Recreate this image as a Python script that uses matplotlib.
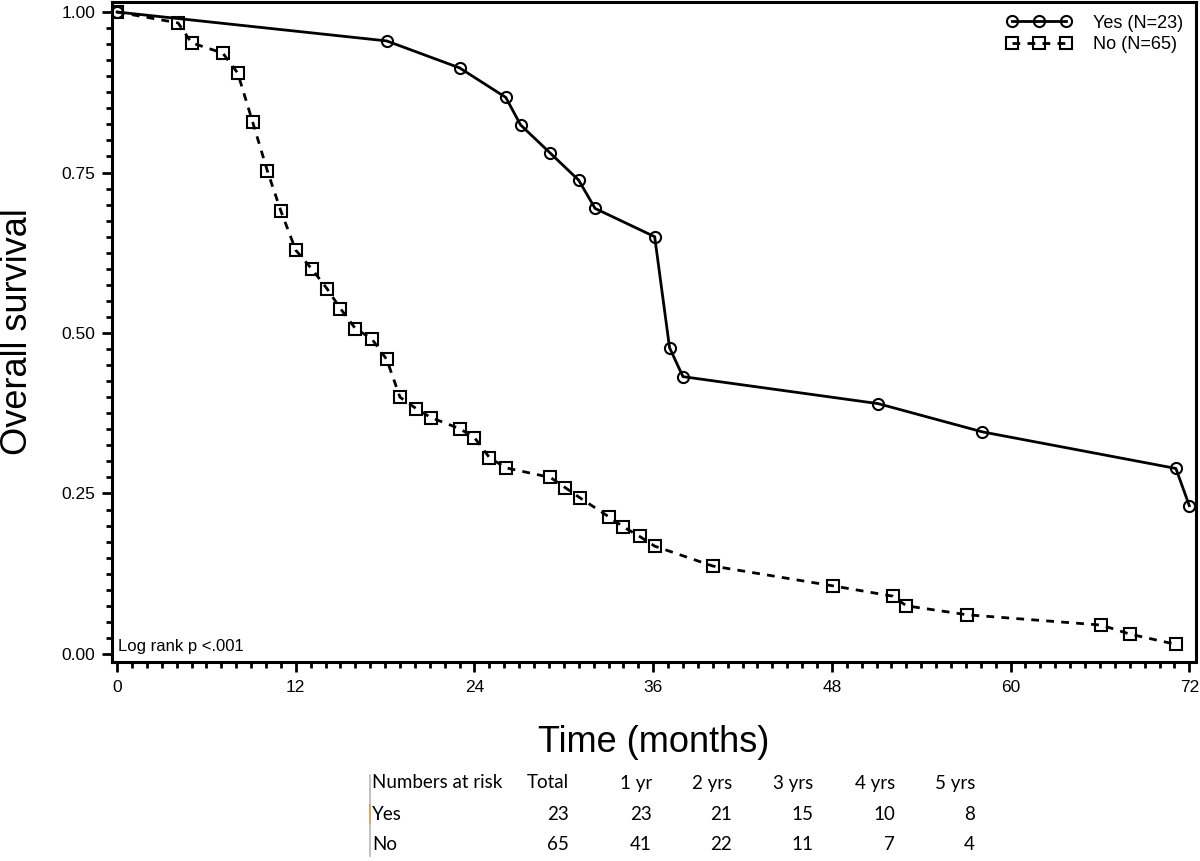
import matplotlib
matplotlib.use("Agg")
import matplotlib.pyplot as plt
from matplotlib.lines import Line2D
from matplotlib.ticker import MultipleLocator, FormatStrFormatter

# survival estimates (months, probability)
yes_months = [0, 18.1, 23.0, 26.1, 27.1, 29.1, 31.0, 32.1, 36.1, 37.1, 38.0, 51.1, 58.1, 71.1, 72.0]
yes_surv = [1.0, 0.955, 0.913, 0.867, 0.824, 0.780, 0.738, 0.694, 0.650, 0.477, 0.432, 0.390, 0.346, 0.289, 0.231]

no_months = [0, 4.1, 5.0, 7.1, 8.1, 9.1, 10.1, 11.0, 12.0, 13.1, 14.1, 15.0, 16.0, 17.1, 18.1, 19.0,
             20.1, 21.1, 23.0, 24.0, 25.0, 26.1, 29.1, 30.1, 31.1, 33.0, 34.0, 35.1, 36.1, 40.0,
             48.1, 52.1, 53.0, 57.1, 66.1, 68.0, 71.1]
no_surv = [1.0, 0.983, 0.952, 0.936, 0.905, 0.829, 0.752, 0.690, 0.629, 0.599, 0.569, 0.538, 0.507, 0.491,
           0.459, 0.400, 0.382, 0.368, 0.351, 0.337, 0.306, 0.290, 0.275, 0.259, 0.243, 0.214, 0.198,
           0.183, 0.168, 0.137, 0.106, 0.090, 0.075, 0.061, 0.045, 0.031, 0.015]

yes_label = "Yes (N=23)"
no_label = "No (N=65)"

risk_headers = ["Total", "1 yr", "2 yrs", "3 yrs", "4 yrs", "5 yrs"]
risk_yes = [23, 23, 21, 15, 10, 8]
risk_no = [65, 41, 22, 11, 7, 4]

W, H = 1200, 861
plt.rcParams["font.family"] = ["Liberation Sans", "DejaVu Sans"]

fig = plt.figure(figsize=(W / 100, H / 100), dpi=100)
ax = fig.add_axes([112 / W, 1 - 662 / H, 1084 / W, 660 / H])

ax.plot(yes_months, yes_surv, color="black", linewidth=2.0, marker="o", markersize=8,
        markerfacecolor="none", markeredgewidth=1.5, label=yes_label)
ax.plot(no_months, no_surv, color="black", linewidth=2.0, linestyle=(0, (2.8, 2.6)), marker="s",
        markersize=8, markerfacecolor="none", markeredgewidth=1.5, label=no_label)

ax.set_xlim(-0.34, 72.45)
ax.set_ylim(-0.0125, 1.0156)
ax.xaxis.set_major_locator(MultipleLocator(12))
ax.xaxis.set_minor_locator(MultipleLocator(1))
ax.yaxis.set_major_locator(MultipleLocator(0.25))
ax.yaxis.set_minor_locator(MultipleLocator(0.025))
ax.yaxis.set_major_formatter(FormatStrFormatter("%.2f"))

ax.tick_params(which="major", length=7, width=2, labelsize=12.5, pad=5)
ax.tick_params(which="minor", length=4.5, width=2)
ax.tick_params(axis="x", which="major", pad=6)
for spine in ax.spines.values():
    spine.set_linewidth(2.2)

ax.set_ylabel("Overall survival", fontsize=26, va="center")
ax.yaxis.set_label_coords(-0.0876, 0.5)
ax.set_xlabel("Time (months)", fontsize=26, va="center")
ax.xaxis.set_label_coords(0.5, -0.1227)

ax.text(0.0055, 0.012, "Log rank p <.001", transform=ax.transAxes, fontsize=12, va="bottom", ha="left")

ax.legend(loc="upper right", frameon=False, numpoints=3, handlelength=3.6, fontsize=13,
          borderaxespad=0.3, labelspacing=0.25, handletextpad=1.2)

# numbers at risk table below the plot
table_font = ["Lato", "Liberation Sans", "DejaVu Sans"]
col_right = [569, 652, 732, 813, 895, 975]
row_y = [783, 814, 845]
fig.text(372 / W, 1 - row_y[0] / H, "Numbers at risk", fontsize=13.5, family=table_font, va="center", ha="left")
fig.text(372 / W, 1 - row_y[1] / H, "Yes", fontsize=13.5, family=table_font, va="center", ha="left")
fig.text(372 / W, 1 - row_y[2] / H, "No", fontsize=13.5, family=table_font, va="center", ha="left")
for i, head in enumerate(risk_headers):
    fig.text(col_right[i] / W, 1 - row_y[0] / H, head, fontsize=13.5, family=table_font, va="center", ha="right")
    fig.text(col_right[i] / W, 1 - row_y[1] / H, str(risk_yes[i]), fontsize=13.5, family=table_font,
             va="center", ha="right")
    fig.text(col_right[i] / W, 1 - row_y[2] / H, str(risk_no[i]), fontsize=13.5, family=table_font,
             va="center", ha="right")

fig.add_artist(Line2D([370 / W, 370 / W], [1 - 775 / H, 1 - 856 / H], color="#b8b8b8", linewidth=1.2))
fig.add_artist(Line2D([370 / W, 370 / W], [1 - 805 / H, 1 - 823 / H], color="#e0a050", linewidth=1.2))

fig.savefig("out.png", dpi=100)
